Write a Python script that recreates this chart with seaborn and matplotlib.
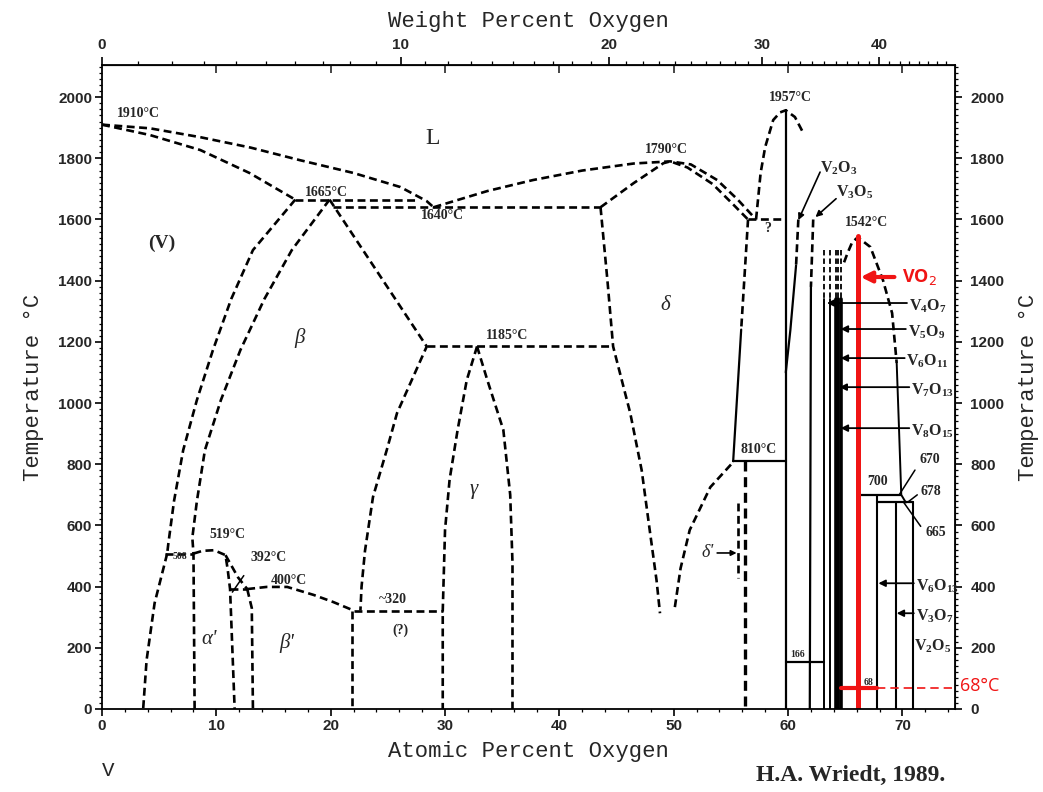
import numpy as np
import matplotlib
matplotlib.use("Agg")
import matplotlib.pyplot as plt
import seaborn as sns
from matplotlib.ticker import MultipleLocator

# ---- phase boundaries (at.% O, deg C) ----
liq_v_x = [0, 4.2, 8.6, 13.0, 17.3, 22.0, 26.1, 28.4, 29.0]
liq_v_t = [1910, 1898, 1869, 1835, 1794, 1752, 1706, 1660, 1640]
sol_v_x = [0, 4.2, 8.6, 12.9, 16.9]
sol_v_t = [1910, 1876, 1827, 1752, 1665]
solvus_v_x = [16.9, 15.0, 13.2, 11.3, 9.7, 8.3, 7.1, 6.3, 5.8, 5.7]
solvus_v_t = [1665, 1580, 1500, 1340, 1173, 1010, 846, 680, 540, 508]
v_low_x = [5.7, 4.6, 3.9, 3.6]
v_low_t = [508, 346, 160, 0]
beta_left_x = [19.9, 18.2, 16.6, 14.2, 12.1, 10.4, 9.0, 8.3, 7.9, 8.0, 8.1]
beta_left_t = [1665, 1580, 1500, 1340, 1173, 1010, 846, 680, 560, 508, 0]
beta_right_x = [19.9, 28.4, 25.8, 24.9, 23.7, 23.0, 22.7, 22.6]
beta_right_t = [1665, 1185, 967, 846, 693, 517, 400, 322]
alpha_top_x = [8.0, 8.8, 9.8, 10.8, 11.0, 11.2, 11.6]
alpha_top_t = [508, 517, 519, 503, 454, 392, 0]
alpha_diag_x = [10.8, 11.9, 12.7]
alpha_diag_t = [503, 430, 392]
beta2_left_x = [12.7, 13.1, 13.2]
beta2_left_t = [392, 330, 0]
curve400_x = [12.7, 14.4, 16.2, 18.5, 20.2, 22.0]
curve400_t = [392, 399, 399, 373, 350, 322]
gamma_left_x = [32.8, 31.9, 31.1, 30.4, 30.0, 29.8, 29.8]
gamma_left_t = [1185, 1075, 912, 750, 585, 320, 0]
gamma_right_x = [32.8, 33.7, 35.1, 35.7, 35.9, 35.9]
gamma_right_t = [1185, 1075, 912, 700, 477, 0]
delta_left_x = [43.6, 44.2, 44.7, 46.2, 47.2, 47.9, 48.5, 48.8]
delta_left_t = [1640, 1402, 1185, 967, 780, 585, 420, 313]
delta2_x = [50.1, 50.6, 51.4, 53.2, 55.2]
delta2_t = [333, 460, 585, 725, 807]
liq_delta_x = [29.0, 33.7, 37.7, 42.0, 46.5, 49.7, 51.5, 53.8, 55.6, 57.2]
liq_delta_t = [1640, 1693, 1729, 1760, 1783, 1790, 1780, 1729, 1665, 1600]
sol_delta_x = [43.6, 46.5, 49.1, 49.7, 51.2, 53.4, 55.1, 56.5]
sol_delta_t = [1640, 1719, 1784, 1790, 1770, 1716, 1653, 1600]
delta_right_x = [56.5, 56.2, 55.9, 55.2]
delta_right_t = [1600, 1420, 1240, 810]
v2o3_dome_x = [57.2, 57.6, 58.0, 58.7, 59.3, 59.8, 60.6, 61.3]
v2o3_dome_t = [1600, 1752, 1837, 1925, 1950, 1957, 1935, 1885]
v2o3_right_x = [60.9, 60.7, 60.2, 59.8]
v2o3_right_t = [1600, 1450, 1238, 1100]
vo2_dome_x = [64.9, 65.2, 65.6, 66.1, 67.2, 68.3, 69.1, 69.5]
vo2_dome_t = [1460, 1490, 1525, 1542, 1510, 1402, 1294, 1131]
vo2_dome_low_x = [69.5, 69.7, 69.9, 70.3]
vo2_dome_low_t = [1131, 920, 700, 675]

# horizontal invariant lines: (temperature, x from, x to)
dashed_lines_t = [1665, 1640, 1185, 1600, 508, 392, 320]
dashed_lines_x0 = [16.9, 20.2, 28.4, 56.5, 5.5, 11.2, 22.0]
dashed_lines_x1 = [27.6, 43.6, 44.7, 59.8, 8.0, 12.7, 29.8]
solid_lines_t = [810, 700, 675, 155]
solid_lines_x0 = [55.2, 66.1, 67.8, 59.8]
solid_lines_x1 = [59.8, 69.9, 70.9, 63.1]

# compounds (vertical lines)
v2o3_x = 59.8
v3o5_x = [62.2, 62.0, 61.9]
v3o5_t = [1600, 1380, 0]
magneli_x = [63.1, 63.7, 64.15, 64.4, 64.65]
low_oxides_x = [67.8, 69.4, 70.9]
low_oxides_top = [700, 675, 675]

# labelled arrows for Magneli / higher oxides
arrow_names = ["V$_4$O$_7$", "V$_5$O$_9$", "V$_6$O$_{11}$", "V$_7$O$_{13}$", "V$_8$O$_{15}$",
               "V$_6$O$_{13}$", "V$_3$O$_7$"]
arrow_t = [1327, 1242, 1147, 1052, 918, 411, 313]
arrow_head_x = [63.4, 64.6, 64.6, 64.5, 64.6, 67.9, 69.5]
arrow_tail_x = [70.4, 70.3, 70.2, 70.6, 70.6, 71.0, 71.0]

# VO2 highlight
vo2_x = 66.1
vo2_top = 1545
mit_t = 68


def at_to_wt(a):
    a = np.asarray(a, dtype=float)
    with np.errstate(divide="ignore", invalid="ignore"):
        return 100 * 16 * a / (16 * a + 50.94 * (100 - a))


def wt_to_at(w):
    w = np.asarray(w, dtype=float)
    with np.errstate(divide="ignore", invalid="ignore"):
        return 100 * (w / 16) / (w / 16 + (100 - w) / 50.94)


sns.set_style("ticks")
plt.rcParams['font.family'] = ['Liberation Serif', 'DejaVu Serif']
plt.rcParams['mathtext.fontset'] = 'custom'
plt.rcParams['mathtext.rm'] = 'Liberation Serif:bold'
plt.rcParams['mathtext.sf'] = 'DejaVu Sans'

fig = plt.figure(figsize=(10.43, 7.92), dpi=100)
ax = fig.add_axes([102 / 1043, 1 - 709 / 792, 853 / 1043, 644 / 792])

DASH = (0, (3.0, 1.7))


def boundary(xs, ts, dashed=True, lw=1.9, color="black"):
    sns.lineplot(x=xs, y=ts, sort=False, estimator=None, ax=ax, color=color,
                 lw=lw, linestyle=DASH if dashed else "-", legend=False)


for xs, ts in [(liq_v_x, liq_v_t), (sol_v_x, sol_v_t), (solvus_v_x, solvus_v_t),
               (v_low_x, v_low_t), (beta_left_x, beta_left_t), (beta_right_x, beta_right_t),
               (alpha_top_x, alpha_top_t), (alpha_diag_x, alpha_diag_t),
               (beta2_left_x, beta2_left_t), (curve400_x, curve400_t),
               (gamma_left_x, gamma_left_t), (gamma_right_x, gamma_right_t),
               (delta_left_x, delta_left_t), (delta2_x, delta2_t),
               (liq_delta_x, liq_delta_t), (sol_delta_x, sol_delta_t),
               (v2o3_dome_x, v2o3_dome_t), (vo2_dome_x, vo2_dome_t)]:
    boundary(xs, ts)

for t, x0, x1 in zip(dashed_lines_t, dashed_lines_x0, dashed_lines_x1):
    boundary([x0, x1], [t, t])
for t, x0, x1 in zip(solid_lines_t, solid_lines_x0, solid_lines_x1):
    boundary([x0, x1], [t, t], dashed=False, lw=1.6)

# short verticals
boundary([21.9, 21.9], [320, 0])
boundary([55.6, 55.6], [673, 428])
boundary([56.2, 56.2], [810, 0], lw=2.4)

# delta right edge: dashed top, solid bottom
boundary(delta_right_x[:3], delta_right_t[:3])
boundary(delta_right_x[2:], delta_right_t[2:], dashed=False, lw=1.6)
boundary(v2o3_right_x[:2], v2o3_right_t[:2])
boundary(v2o3_right_x[1:], v2o3_right_t[1:], dashed=False, lw=1.6)
boundary(vo2_dome_low_x, vo2_dome_low_t, dashed=False, lw=1.4)

# compounds
boundary([v2o3_x, v2o3_x], [1957, 0], dashed=False, lw=1.6)
boundary(v3o5_x[:2], v3o5_t[:2])
boundary(v3o5_x[1:], v3o5_t[1:], dashed=False, lw=1.6)
for i, mx in enumerate(magneli_x):
    boundary([mx, mx], [1500, 1340], lw=1.3)
    boundary([mx, mx], [1340, 0], dashed=False, lw=1.4 if i < 2 else 2.6)
for lx, lt in zip(low_oxides_x, low_oxides_top):
    boundary([lx, lx], [lt, 0], dashed=False, lw=1.5)

# arrows to compounds
for name, t, xh, xt in zip(arrow_names, arrow_t, arrow_head_x, arrow_tail_x):
    ax.annotate("", xy=(xh, t), xytext=(xt, t),
                arrowprops=dict(arrowstyle="-|>", color="black", lw=1.3,
                                mutation_scale=10, shrinkA=0, shrinkB=0))
    ax.text(xt + 0.15, t - 10, name, fontsize=11.5, fontweight="bold",
            ha="left", va="center")
ax.text(71.0, 205, "V$_2$O$_5$", fontsize=11.5, fontweight="bold", ha="left", va="center")

ax.annotate("", xy=(60.9, 1598), xytext=(62.8, 1755),
            arrowprops=dict(arrowstyle="-|>", color="black", lw=1.2,
                            mutation_scale=9, shrinkA=0, shrinkB=0))
ax.text(62.8, 1768, "V$_2$O$_3$", fontsize=11.5, fontweight="bold", ha="left", va="center")
ax.annotate("", xy=(62.4, 1608), xytext=(64.2, 1668),
            arrowprops=dict(arrowstyle="-|>", color="black", lw=1.2,
                            mutation_scale=9, shrinkA=0, shrinkB=0))
ax.text(64.2, 1688, "V$_3$O$_5$", fontsize=11.5, fontweight="bold", ha="left", va="center")
ax.annotate("", xy=(55.5, 510), xytext=(53.8, 510),
            arrowprops=dict(arrowstyle="-|>", color="black", lw=1.2,
                            mutation_scale=8, shrinkA=0, shrinkB=0))

# leader lines
for (x0, t0), (x1, t1) in [((11.4, 382), (12.4, 436)), ((71.1, 781), (69.7, 699)),
                           ((71.3, 700), (70.5, 677)), ((71.6, 597), (70.1, 676))]:
    boundary([x0, x1], [t0, t1], dashed=False, lw=1.1)

# text labels
lbl = dict(fontsize=10, fontweight="bold", ha="center", va="center")
ax.text(3.2, 1948, "1910°C", **lbl)
ax.text(19.6, 1688, "1665°C", **lbl)
ax.text(29.8, 1612, "1640°C", **lbl)
ax.text(49.4, 1828, "1790°C", **lbl)
ax.text(60.2, 2000, "1957°C", **lbl)
ax.text(66.9, 1590, "1542°C", **lbl)
ax.text(35.4, 1220, "1185°C", **lbl)
ax.text(57.4, 848, "810°C", **lbl)
ax.text(11.0, 570, "519°C", **lbl)
ax.text(14.6, 494, "392°C", **lbl)
ax.text(16.3, 421, "400°C", **lbl)
ax.text(25.4, 358, "~320", **lbl)
ax.text(26.1, 258, "(?)", **lbl)
ax.text(58.2, 1570, "?", **lbl)
ax.text(67.8, 742, "700", **lbl)
ax.text(72.4, 816, "670", **lbl)
ax.text(72.5, 712, "678", **lbl)
ax.text(72.9, 578, "665", **lbl)
ax.text(6.8, 498, "508", fontsize=7, fontweight="bold", ha="center", va="center")
ax.text(60.8, 178, "166", fontsize=7, fontweight="bold", ha="center", va="center")
ax.text(67.0, 88, "68", fontsize=7, fontweight="bold", ha="center", va="center")

ph = dict(fontsize=15, fontstyle="italic", ha="center", va="center")
ax.text(28.9, 1866, "L", fontsize=17, ha="center", va="center")
ax.text(5.2, 1523, "(V)", fontsize=14, fontweight="bold", ha="center", va="center")
ax.text(17.3, 1212, "β", **ph)
ax.text(49.3, 1320, "δ", **ph)
ax.text(32.5, 716, "γ", **ph)
ax.text(9.4, 226, "α'", **ph)
ax.text(16.2, 216, "β'", **ph)
ax.text(53.0, 513, "δ'", fontsize=13, fontstyle="italic", ha="center", va="center")

# VO2 highlight in red
red = "#f01414"
boundary([vo2_x, vo2_x], [0, vo2_top], dashed=False, lw=3.6, color=red)
ax.annotate("", xy=(vo2_x + 0.25, 1412), xytext=(69.3, 1412),
            arrowprops=dict(arrowstyle="-|>", color=red, lw=3, mutation_scale=16,
                            shrinkA=0, shrinkB=0))
ax.text(70.0, 1412, "VO$_{\\mathsf{2}}$", color=red, fontsize=13,
        family=["Open Sans", "DejaVu Sans"], fontweight="bold", ha="left", va="center")
boundary([64.6, 67.8], [mit_t, mit_t], dashed=False, lw=3.0, color=red)
sns.lineplot(x=[67.8, 74.6], y=[mit_t, mit_t], ax=ax, color=red, lw=1.2,
             linestyle=(0, (5, 3)), legend=False)
ax.text(75.0, mit_t + 8, "68°C", color=red, fontsize=13,
        family=["Open Sans", "DejaVu Sans"], ha="left", va="center")

# axes
ax.set_xlim(0, 74.6)
ax.set_ylim(0, 2105)
ax.set_xticks(range(0, 71, 10))
ax.xaxis.set_minor_locator(MultipleLocator(2))
ax.set_yticks(range(0, 2001, 200))
ax.yaxis.set_minor_locator(MultipleLocator(20))
tick_font = dict(family="Liberation Sans", weight="bold", size=11)
ax.tick_params(axis="both", which="major", length=5, width=1.2, color="black", pad=2)
ax.tick_params(axis="both", which="minor", length=2.5, width=0.9, color="black")
for lab in ax.get_xticklabels() + ax.get_yticklabels():
    lab.set_fontproperties(tick_font)
for sp in ax.spines.values():
    sp.set_color("black")
    sp.set_linewidth(1.3)

ax.set_xlabel("Atomic Percent Oxygen", family="Liberation Mono", fontsize=16, labelpad=6)
ax.set_ylabel("Temperature °C", family="Liberation Mono", fontsize=16, labelpad=10)

ax_r = ax.secondary_yaxis("right")
ax_r.set_yticks(range(0, 2001, 200))
ax_r.yaxis.set_minor_locator(MultipleLocator(20))
ax_r.tick_params(which="major", length=5, width=1.2, color="black", pad=6)
ax_r.tick_params(which="minor", length=2.5, width=0.9, color="black")
for lab in ax_r.get_yticklabels():
    lab.set_fontproperties(tick_font)
ax_r.set_ylabel("Temperature °C", family="Liberation Mono", fontsize=16, labelpad=10)

ax_in = ax.secondary_xaxis("top")
ax_in.set_xticks(range(10, 71, 10))
ax_in.tick_params(direction="in", length=6, width=1.2, labeltop=False)

ax_w = ax.secondary_xaxis("top", functions=(at_to_wt, wt_to_at))
ax_w.set_xticks([0, 10, 20, 30, 40])
ax_w.xaxis.set_minor_locator(MultipleLocator(1))
ax_w.tick_params(which="major", length=6, width=1.2, color="black", pad=3)
ax_w.tick_params(which="minor", length=3, width=0.9, color="black")
for lab in ax_w.get_xticklabels():
    lab.set_fontproperties(tick_font)
ax_w.set_xlabel("Weight Percent Oxygen", family="Liberation Mono", fontsize=16, labelpad=8)

ax.text(0.5, -200, "V", fontsize=15, ha="center", va="center", family="Liberation Mono")
ax.text(65.5, -218, "H.A. Wriedt, 1989.", fontsize=17, fontweight="bold",
        ha="center", va="center")

fig.savefig("out.png", dpi=100)
